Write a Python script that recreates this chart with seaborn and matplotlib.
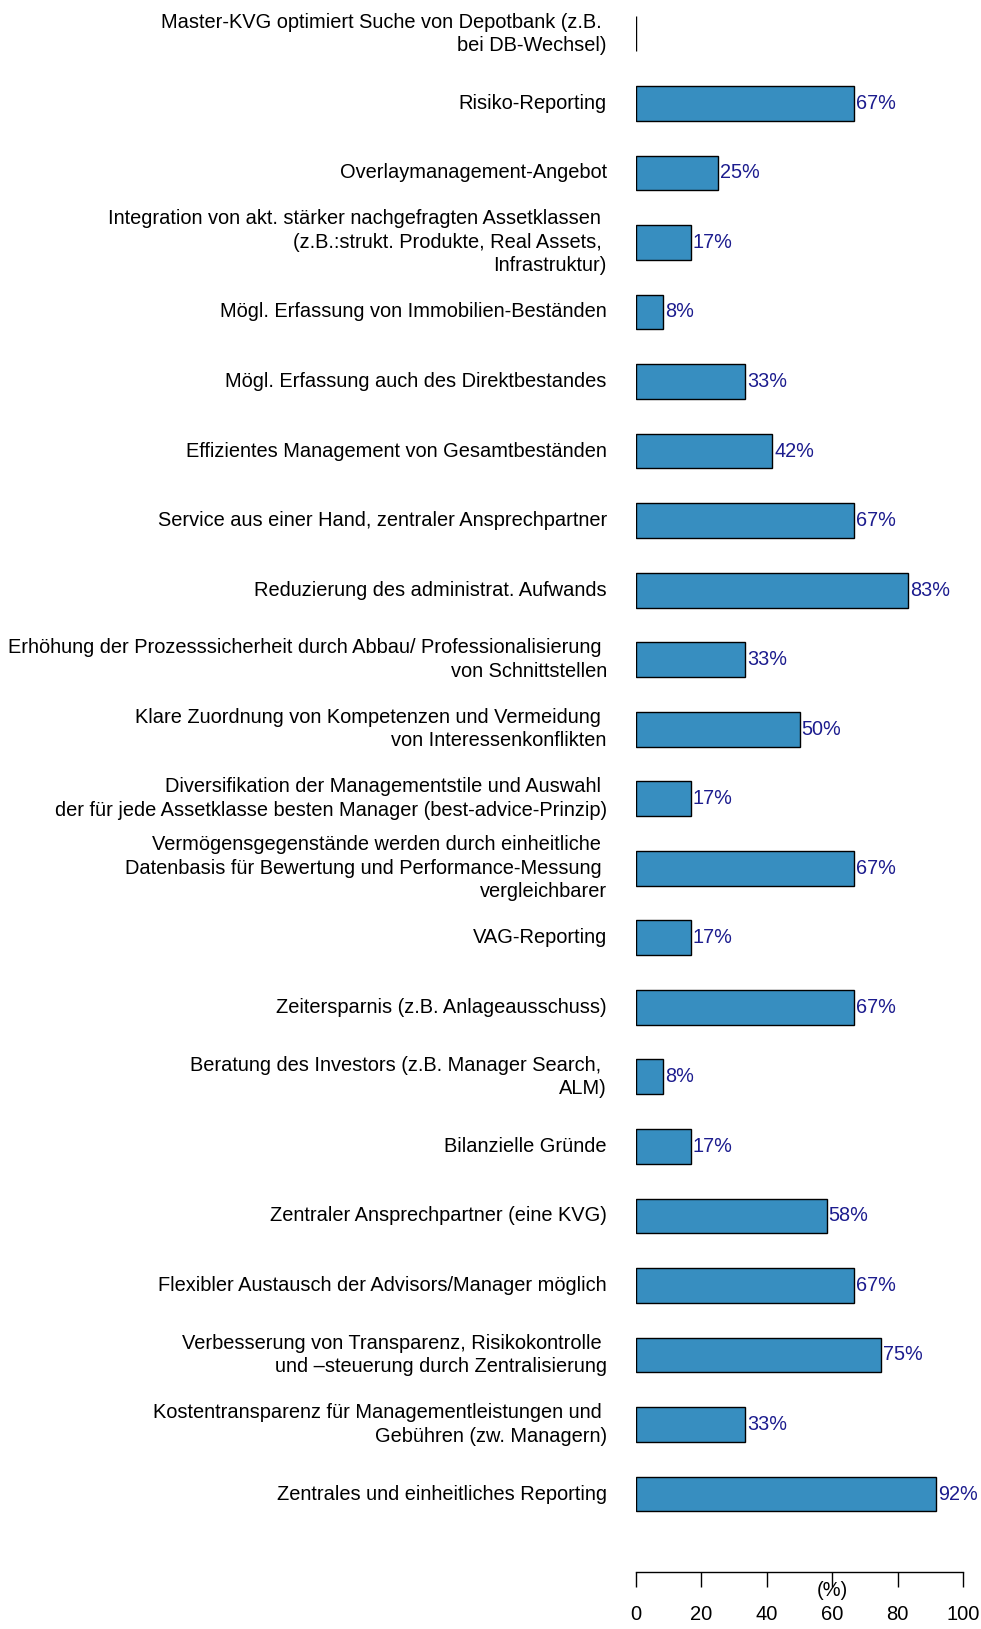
import numpy as np
import pandas as pd
import matplotlib
matplotlib.use("Agg")
import matplotlib.pyplot as plt
import seaborn as sns

# categories, top to bottom
labels = [
    "Master-KVG optimiert Suche von Depotbank (z.B. \nbei DB-Wechsel)",
    "Risiko-Reporting",
    "Overlaymanagement-Angebot",
    "Integration von akt. stärker nachgefragten Assetklassen \n(z.B.:strukt. Produkte, Real Assets, \nInfrastruktur)",
    "Mögl. Erfassung von Immobilien-Beständen",
    "Mögl. Erfassung auch des Direktbestandes",
    "Effizientes Management von Gesamtbeständen",
    "Service aus einer Hand, zentraler Ansprechpartner",
    "Reduzierung des administrat. Aufwands",
    "Erhöhung der Prozesssicherheit durch Abbau/ Professionalisierung \nvon Schnittstellen",
    "Klare Zuordnung von Kompetenzen und Vermeidung \nvon Interessenkonflikten",
    "Diversifikation der Managementstile und Auswahl \nder für jede Assetklasse besten Manager (best-advice-Prinzip)",
    "Vermögensgegenstände werden durch einheitliche \nDatenbasis für Bewertung und Performance-Messung \nvergleichbarer",
    "VAG-Reporting",
    "Zeitersparnis (z.B. Anlageausschuss)",
    "Beratung des Investors (z.B. Manager Search, \nALM)",
    "Bilanzielle Gründe",
    "Zentraler Ansprechpartner (eine KVG)",
    "Flexibler Austausch der Advisors/Manager möglich",
    "Verbesserung von Transparenz, Risikokontrolle \nund –steuerung durch Zentralisierung",
    "Kostentransparenz für Managementleistungen und \nGebühren (zw. Managern)",
    "Zentrales und einheitliches Reporting",
]
values = [0, 66.7, 25, 16.7, 8.3, 33.3, 41.7, 66.7, 83.3, 33.3, 50, 16.7,
          66.7, 16.7, 66.7, 8.3, 16.7, 58.3, 66.7, 75, 33.3, 91.7]
xticks = [0, 20, 40, 60, 80, 100]

df = pd.DataFrame({"label": labels, "value": values})

sns.set_style("white")
plt.rcParams["font.family"] = ["Liberation Sans", "DejaVu Sans"]
plt.rcParams["text.color"] = "black"
plt.rcParams["xtick.color"] = "black"
plt.rcParams["ytick.color"] = "black"
plt.rcParams["axes.labelcolor"] = "black"

W, H = 981, 1629
ax_top, ax_bot = -0.9, 1528.8
fig = plt.figure(figsize=(W / 100, H / 100), dpi=100)
ax = fig.add_axes([636 / W, 1 - ax_bot / H, 327 / W, (ax_bot - ax_top) / H])

sns.barplot(data=df, x="value", y="label", orient="h", ax=ax,
            color="#378EC0", saturation=1, width=0.5,
            edgecolor="black", linewidth=1.0, errorbar=None)

for i, v in enumerate(values):
    if v > 0:
        ax.text(v + 0.6, i, f"{v:.0f}%", va="center", ha="left",
                color="#1c1c8e", fontsize=14.3)

sns.despine(ax=ax, left=True)
ax.spines["bottom"].set_position(("outward", 31.1))
ax.spines["bottom"].set_bounds(0, 100)
ax.spines["bottom"].set_color("black")
ax.spines["bottom"].set_linewidth(1)

ax.set_xlim(0, 100)
ax.set_ylim(len(labels) - 0.5, -0.5)
ax.set_xticks(xticks)
ax.set_xticklabels([str(t) for t in xticks])
ax.tick_params(axis="x", length=11, width=1, pad=13, direction="out",
               bottom=True, color="black", labelsize=14.5, labelcolor="black")
ax.tick_params(axis="y", length=0, pad=21, labelsize=14.4, labelcolor="black")
for t in ax.get_yticklabels():
    t.set_va("center")
    t.set_ha("right")
    t.set_linespacing(1.3)

ax.set_ylabel("")
ax.set_xlabel("(%)", fontsize=14.5, va="center", color="black")
ax.xaxis.set_label_coords(0.6, -62.2 / (ax_bot - ax_top))

fig.savefig("out.png", dpi=100)
